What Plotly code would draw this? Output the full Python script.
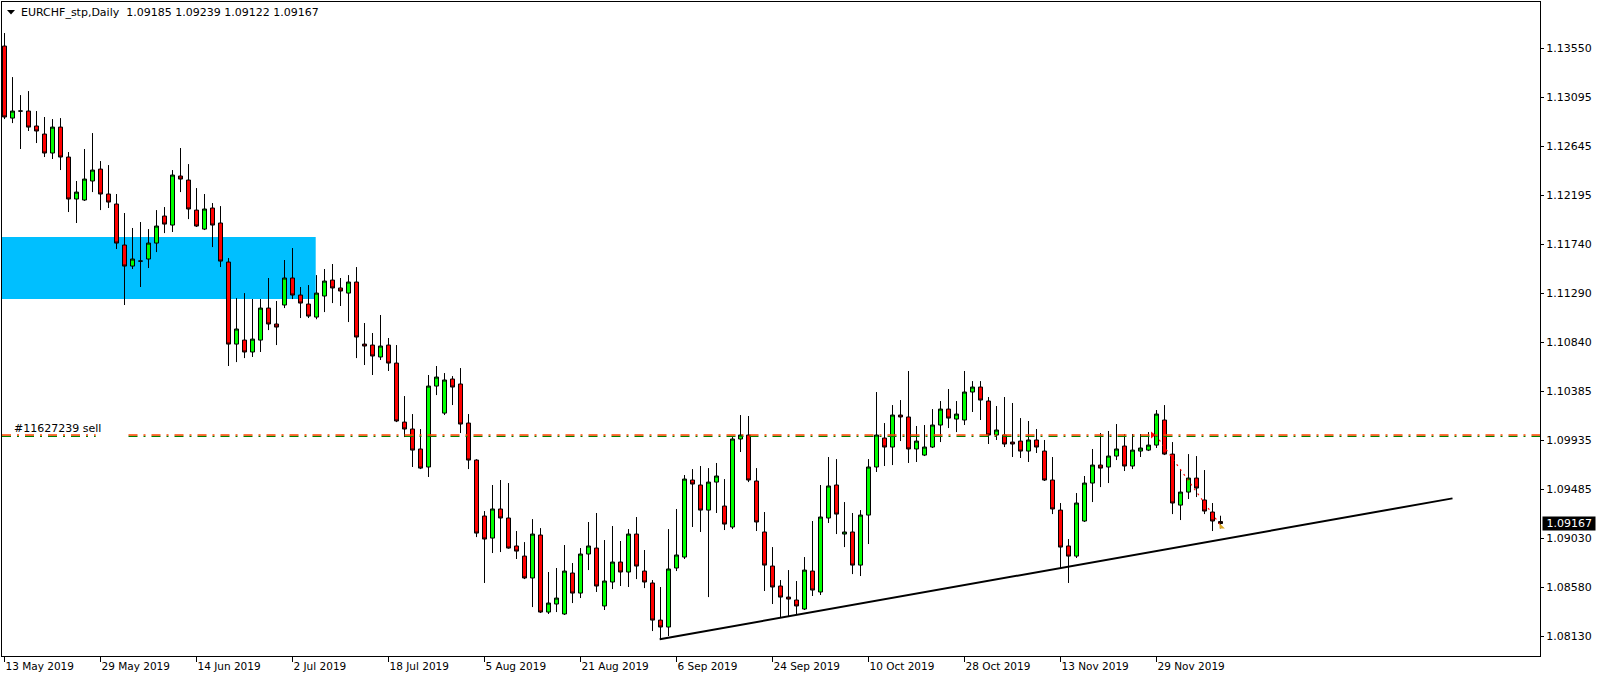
import plotly.graph_objects as go

# ---------------- data ----------------
opens = [1.13568, 1.12904, 1.12969, 1.12969, 1.12831, 1.12757, 1.12582, 1.12821, 1.12545, 1.12158,
         1.12149, 1.12324, 1.12434, 1.12204, 1.12112, 1.11734, 1.11540, 1.11586, 1.11605, 1.11752,
         1.12001, 1.11918, 1.12370, 1.12333, 1.12056, 1.11881, 1.12075, 1.11937, 1.11577, 1.10821,
         1.10858, 1.10748, 1.10858, 1.11153, 1.11006, 1.11181, 1.11430, 1.11273, 1.11190, 1.11070,
         1.11264, 1.11411, 1.11338, 1.11291, 1.11393, 1.10821, 1.10812, 1.10702, 1.10812, 1.10646,
         1.10102, 1.10038, 1.09854, 1.09688, 1.10434, 1.10185, 1.10499, 1.10453, 1.10093, 1.09752,
         1.09236, 1.09033, 1.09301, 1.09218, 1.08960, 1.08867, 1.08665, 1.09061, 1.08351, 1.08425,
         1.08333, 1.08711, 1.08526, 1.08886, 1.08941, 1.08407, 1.08628, 1.08812, 1.08720, 1.09070,
         1.08729, 1.08619, 1.08277, 1.08213, 1.08757, 1.08858, 1.09568, 1.09522, 1.09291, 1.09549,
         1.09328, 1.09135, 1.09946, 1.09983, 1.09559, 1.09089, 1.08775, 1.08591, 1.08489, 1.08462,
         1.08379, 1.08729, 1.08536, 1.09218, 1.09522, 1.09070, 1.09089, 1.08784, 1.09245, 1.09688,
         1.09955, 1.09872, 1.10167, 1.10149, 1.09854, 1.09798, 1.09872, 1.10075, 1.10222, 1.10130,
         1.10121, 1.10379, 1.10425, 1.10296, 1.09983, 1.09983, 1.09918, 1.09927, 1.09835, 1.09937,
         1.09835, 1.09568, 1.09291, 1.08960, 1.08867, 1.09190, 1.09540, 1.09706, 1.09688, 1.09789,
         1.09881, 1.09697, 1.09835, 1.09844, 1.09890, 1.10121, 1.09807, 1.09337, 1.09457, 1.09586,
         1.09384, 1.09273, 1.09185]
highs = [1.13688, 1.13282, 1.13116, 1.13153, 1.12969, 1.12914, 1.12895, 1.12904, 1.12591, 1.12324,
         1.12619, 1.12766, 1.12508, 1.12471, 1.12204, 1.12029, 1.11891, 1.11946, 1.11881, 1.12056,
         1.12084, 1.12425, 1.12628, 1.12480, 1.12259, 1.12204, 1.12121, 1.12093, 1.11614, 1.11245,
         1.11291, 1.11236, 1.11236, 1.11430, 1.11218, 1.11596, 1.11706, 1.11347, 1.11365, 1.11457,
         1.11513, 1.11559, 1.11430, 1.11457, 1.11531, 1.11015, 1.10923, 1.11089, 1.10877, 1.10812,
         1.10342, 1.10176, 1.10038, 1.10536, 1.10619, 1.10554, 1.10526, 1.10600, 1.10176, 1.09760,
         1.09282, 1.09522, 1.09568, 1.09540, 1.09098, 1.08996, 1.09208, 1.09125, 1.08720, 1.08757,
         1.08969, 1.08803, 1.08941, 1.09181, 1.09264, 1.09015, 1.09144, 1.09006, 1.09116, 1.09227,
         1.08923, 1.08646, 1.08582, 1.09116, 1.09301, 1.09614, 1.09669, 1.09697, 1.09678, 1.09725,
         1.09577, 1.09964, 1.10167, 1.10158, 1.09678, 1.09273, 1.08950, 1.08646, 1.08738, 1.08637,
         1.08858, 1.09190, 1.09522, 1.09780, 1.09761, 1.09365, 1.09264, 1.09291, 1.09761, 1.10379,
         1.10093, 1.10259, 1.10305, 1.10573, 1.10066, 1.10075, 1.10222, 1.10296, 1.10407, 1.10296,
         1.10573, 1.10480, 1.10480, 1.10333, 1.10250, 1.10333, 1.10278, 1.10139, 1.10112, 1.10038,
         1.09937, 1.09780, 1.09356, 1.09024, 1.09448, 1.09605, 1.09854, 1.10001, 1.10020, 1.10084,
         1.09992, 1.09992, 1.09992, 1.10010, 1.10213, 1.10259, 1.09918, 1.09669, 1.09807, 1.09789,
         1.09660, 1.09356, 1.09239]
lows = [1.12895, 1.12858, 1.12619, 1.12785, 1.12674, 1.12545, 1.12527, 1.12425, 1.12038, 1.11937,
        1.12140, 1.12222, 1.12056, 1.12075, 1.11697, 1.11181, 1.11513, 1.11347, 1.11522, 1.11669,
        1.11844, 1.11854, 1.12222, 1.11973, 1.11900, 1.11872, 1.11715, 1.11531, 1.10619, 1.10655,
        1.10692, 1.10702, 1.10748, 1.10950, 1.10812, 1.11153, 1.11236, 1.11061, 1.11061, 1.11050,
        1.11116, 1.11199, 1.11172, 1.11024, 1.10692, 1.10628, 1.10536, 1.10674, 1.10573, 1.10102,
        1.09964, 1.09688, 1.09669, 1.09596, 1.10351, 1.10167, 1.10259, 1.10001, 1.09669, 1.09042,
        1.08619, 1.08895, 1.08904, 1.08935, 1.08840, 1.08655, 1.08397, 1.08342, 1.08333, 1.08351,
        1.08324, 1.08434, 1.08480, 1.08738, 1.08536, 1.08370, 1.08563, 1.08591, 1.08582, 1.08655,
        1.08572, 1.08176, 1.08102, 1.08130, 1.08729, 1.08840, 1.09135, 1.09089, 1.08489, 1.09264,
        1.09107, 1.09116, 1.09826, 1.09549, 1.09098, 1.08545, 1.08425, 1.08305, 1.08305, 1.08324,
        1.08370, 1.08499, 1.08508, 1.09172, 1.09070, 1.08950, 1.08701, 1.08683, 1.08978, 1.09642,
        1.09697, 1.09706, 1.09927, 1.09725, 1.09734, 1.09789, 1.09863, 1.09918, 1.10047, 1.10010,
        1.10075, 1.10195, 1.10121, 1.09900, 1.09937, 1.09872, 1.09780, 1.09771, 1.09734, 1.09817,
        1.09559, 1.09254, 1.08757, 1.08619, 1.08849, 1.09181, 1.09365, 1.09503, 1.09540, 1.09752,
        1.09651, 1.09669, 1.09780, 1.09835, 1.09863, 1.09798, 1.09254, 1.09199, 1.09393, 1.09411,
        1.09254, 1.09098, 1.09122]
closes = [1.12914, 1.12969, 1.12969, 1.12821, 1.12785, 1.12582, 1.12821, 1.12545, 1.12158, 1.12222,
          1.12342, 1.12425, 1.12204, 1.12130, 1.11752, 1.11540, 1.11605, 1.11586, 1.11752, 1.11909,
          1.11927, 1.12379, 1.12342, 1.12066, 1.11909, 1.12066, 1.11918, 1.11586, 1.10821, 1.10960,
          1.10748, 1.10867, 1.11153, 1.11006, 1.10978, 1.11430, 1.11273, 1.11199, 1.11079, 1.11291,
          1.11402, 1.11338, 1.11310, 1.11393, 1.10886, 1.10803, 1.10711, 1.10803, 1.10646, 1.10112,
          1.10038, 1.09844, 1.09678, 1.10434, 1.10517, 1.10490, 1.10425, 1.10084, 1.09752, 1.09079,
          1.09024, 1.09301, 1.09218, 1.08941, 1.08913, 1.08665, 1.09070, 1.08351, 1.08434, 1.08480,
          1.08729, 1.08526, 1.08886, 1.08960, 1.08591, 1.08637, 1.08812, 1.08720, 1.09070, 1.08775,
          1.08628, 1.08277, 1.08213, 1.08748, 1.08877, 1.09577, 1.09531, 1.09291, 1.09549, 1.09605,
          1.09162, 1.09946, 1.09983, 1.09568, 1.09181, 1.08784, 1.08582, 1.08489, 1.08471, 1.08407,
          1.08738, 1.08554, 1.09227, 1.09513, 1.09254, 1.09089, 1.08784, 1.09245, 1.09688, 1.09983,
          1.09872, 1.10167, 1.10149, 1.09854, 1.09927, 1.09872, 1.10075, 1.10222, 1.10139, 1.10176,
          1.10379, 1.10425, 1.10305, 1.09983, 1.10029, 1.09900, 1.09900, 1.09835, 1.09937, 1.09872,
          1.09568, 1.09301, 1.08950, 1.08867, 1.09356, 1.09540, 1.09706, 1.09678, 1.09789, 1.09854,
          1.09697, 1.09844, 1.09863, 1.09890, 1.10176, 1.09807, 1.09356, 1.09457, 1.09586, 1.09494,
          1.09282, 1.09190, 1.09167]

date_tick_bars = [0, 12, 24, 36, 48, 60, 72, 84, 96, 108, 120, 132, 144]
date_tick_labels = ["13 May 2019", "29 May 2019", "14 Jun 2019", "2 Jul 2019", "18 Jul 2019",
                    "5 Aug 2019", "21 Aug 2019", "6 Sep 2019", "24 Sep 2019", "10 Oct 2019",
                    "28 Oct 2019", "13 Nov 2019", "29 Nov 2019"]
price_ticks = [1.13550, 1.13095, 1.12645, 1.12195, 1.11740, 1.11290, 1.10840,
               1.10385, 1.09935, 1.09485, 1.09030, 1.08580, 1.08130]
price_tick_labels = ["%.5f" % v for v in price_ticks]

# chart objects
zone_bars = [-0.3125, 38.9]
zone_prices = [1.11236, 1.11808]
order_price = 1.09983
order_label = "#11627239 sell"
trend_bars = [81.9, 181.0]
trend_prices = [1.08100, 1.09399]
trade_bars = [143.9, 152.1]
trade_prices = [1.09983, 1.09140]
last_price = 1.09167
title_text = "EURCHF_stp,Daily  1.09185 1.09239 1.09122 1.09167"

# ---------------- layout geometry ----------------
W, H = 1604, 680
ML, MR, MT, MB = 2, 64, 2, 24
PW, PH = W - ML - MR, H - MT - MB
X_RANGE = [-0.3125, 191.9375]
Y_RANGE = [1.07946, 1.13974]


def px(xp):
    return (xp - ML) / PW


def py(yp):
    return 1 - (yp - MT) / PH


FONT = "DejaVu Sans"
bar_index = list(range(len(opens)))

fig = go.Figure()
fig.add_trace(go.Candlestick(
    x=bar_index, open=opens, high=highs, low=lows, close=closes,
    increasing=dict(line=dict(color="black", width=1), fillcolor="#00FF00"),
    decreasing=dict(line=dict(color="black", width=1), fillcolor="#FF0000"),
    whiskerwidth=0, showlegend=False, hoverinfo="skip"))

# trade history line + markers
fig.add_trace(go.Scatter(x=trade_bars, y=trade_prices, mode="lines",
                         line=dict(color="#FF0000", width=1.2, dash="2px,4px"),
                         showlegend=False, hoverinfo="skip"))
fig.add_trace(go.Scatter(x=[trade_bars[0] - 0.4], y=[order_price], mode="markers",
                         marker=dict(symbol="triangle-right", size=6, color="#FF0000"),
                         showlegend=False, hoverinfo="skip"))
fig.add_trace(go.Scatter(x=[trade_bars[1]], y=[trade_prices[1] - 0.00003], mode="markers",
                         marker=dict(symbol="triangle-sw", size=6, color="#DAA520"),
                         showlegend=False, hoverinfo="skip"))

shapes = []
# supply zone rectangle
shapes.append(dict(type="rect", xref="x", yref="y", x0=zone_bars[0], x1=zone_bars[1],
                   y0=zone_prices[0], y1=zone_prices[1], fillcolor="#00BFFF",
                   line=dict(width=0), layer="below"))
# order line (two colours, split around its label)
dash_pat = "9px,6px,2px,6px"
for seg in [(X_RANGE[0], 11.4), (15.5, X_RANGE[1])]:
    shapes.append(dict(type="line", xref="x", yref="y", x0=seg[0], x1=seg[1],
                       y0=order_price - 0.00012, y1=order_price - 0.00012,
                       line=dict(color="#008000", width=1.2, dash=dash_pat), layer="above"))
    shapes.append(dict(type="line", xref="x", yref="y", x0=seg[0], x1=seg[1],
                       y0=order_price, y1=order_price,
                       line=dict(color="#FF4500", width=1.4, dash=dash_pat), layer="above"))
# trend line
shapes.append(dict(type="line", xref="x", yref="y", x0=trend_bars[0], x1=trend_bars[1],
                   y0=trend_prices[0], y1=trend_prices[1],
                   line=dict(color="black", width=2), layer="above"))
# title triangle
shapes.append(dict(type="path", xref="paper", yref="paper",
                   path="M %f,%f L %f,%f L %f,%f Z" % (px(7), py(10), px(15), py(10), px(11), py(14.5)),
                   fillcolor="black", line=dict(width=0)))

annotations = [
    dict(xref="paper", yref="paper", x=px(19), y=py(12.5), xanchor="left", yanchor="middle",
         text=title_text, showarrow=False, font=dict(family=FONT, size=11, color="black")),
    dict(xref="x", yref="y", x=0.9, y=1.10047, xanchor="left", yanchor="middle",
         text=order_label, showarrow=False, font=dict(family=FONT, size=11, color="black")),
    dict(xref="paper", yref="y", x=1, xshift=2, y=last_price, xanchor="left", yanchor="middle",
         text=" %.5f " % last_price, showarrow=False, bgcolor="black", borderpad=0,
         font=dict(family=FONT, size=11, color="white")),
]

fig.update_layout(
    width=W, height=H,
    margin=dict(l=ML, r=MR, t=MT, b=MB, autoexpand=False),
    paper_bgcolor="white", plot_bgcolor="white",
    font=dict(family=FONT, size=11, color="black"),
    shapes=shapes, annotations=annotations,
    boxgap=0.5, boxgroupgap=0,
    showlegend=False,
    xaxis=dict(range=X_RANGE, tickmode="array", tickvals=date_tick_bars, ticktext=date_tick_labels,
               ticks="outside", ticklen=5, tickcolor="black", tickwidth=1,
               ticklabelposition="outside right",
               tickfont=dict(family=FONT, size=10.5, color="black"),
               showgrid=False, zeroline=False, showline=True, linecolor="black", linewidth=1,
               mirror=True, rangeslider=dict(visible=False), fixedrange=True),
    yaxis=dict(range=Y_RANGE, side="right", tickmode="array", tickvals=price_ticks,
               ticktext=price_tick_labels, ticks="outside", ticklen=3, tickcolor="black",
               tickfont=dict(family=FONT, size=11, color="black"),
               showgrid=False, zeroline=False, showline=True, linecolor="black", linewidth=1,
               mirror=True, fixedrange=True),
)

# remove the browser's default 8px page margin so the figure sits at the window's origin
fig.write_html("out.html", config={"displayModeBar": False},
               post_script="document.body.style.margin='0';document.body.style.padding='0';")
